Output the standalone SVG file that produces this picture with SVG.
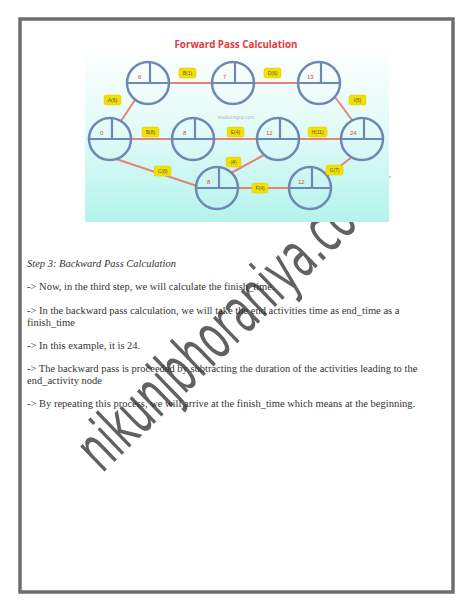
<svg xmlns="http://www.w3.org/2000/svg" width="474" height="613" viewBox="0 0 474 613">
<style>
.node circle{fill:none;stroke:#6f87b4;stroke-width:2.5}
.node line{stroke:#6f87b4;stroke-width:2.2}
.node text{font-family:"Liberation Sans",Arial,sans-serif;font-size:6px;fill:#e0403a}
.edge{stroke:#e8817a;stroke-width:2;fill:none}
.lab rect{fill:#f3e000;stroke:#e0c800;stroke-width:0.5}
.lab text{font-family:"Liberation Sans",Arial,sans-serif;font-size:5px;fill:#555;text-anchor:middle}
.body{font-family:"Liberation Serif","Times New Roman",serif;font-size:10.5px;fill:#333}
</style>
<defs>
<linearGradient id="bg" x1="0" y1="0" x2="0" y2="1">
<stop offset="0" stop-color="#fbfefe"/>
<stop offset="0.45" stop-color="#e2fbf8"/>
<stop offset="1" stop-color="#b4f3ec"/>
</linearGradient>
</defs>
<rect x="0" y="0" width="474" height="613" fill="#ffffff"/>
<rect x="20" y="19" width="433" height="573" fill="none" stroke="#6e6e6e" stroke-width="3.5"/>

<text x="102" y="474" transform="rotate(-44 102 474)" font-family="'DejaVu Sans',sans-serif" font-stretch="condensed" font-size="64" fill="#3a3a3a" fill-opacity="0.8" textLength="396" lengthAdjust="spacingAndGlyphs">nikunjbhoraniya.com</text>

<g id="diagram">
<rect x="85" y="33" width="304" height="189" fill="#ffffff"/>
<rect x="85" y="55" width="304" height="167" fill="url(#bg)"/>
<text x="236" y="48" font-family="'Open Sans','Liberation Sans',sans-serif" font-weight="bold" font-size="9.8" fill="#e23a3a" text-anchor="middle">Forward Pass Calculation</text>
<text x="236" y="119" font-family="'Liberation Sans',sans-serif" font-size="5" fill="#999" fill-opacity="0.7" text-anchor="middle">studiousguy.com</text>
<circle cx="390" cy="177" r="0.8" fill="#888"/>
</g>

<g id="connectors">
<line class="edge" x1="121" y1="121" x2="135" y2="100"/>
<line class="edge" x1="169" y1="83" x2="212" y2="83"/>
<line class="edge" x1="254" y1="83" x2="298" y2="83"/>
<line class="edge" x1="335" y1="97" x2="352" y2="120"/>
<line class="edge" x1="131" y1="139" x2="172" y2="139"/>
<line class="edge" x1="214" y1="139" x2="257" y2="139"/>
<line class="edge" x1="299" y1="139" x2="341" y2="139"/>
<line class="edge" x1="116" y1="159" x2="197" y2="186"/>
<line class="edge" x1="231" y1="173" x2="264" y2="155"/>
<line class="edge" x1="238" y1="188" x2="289" y2="188"/>
<line class="edge" x1="327" y1="176" x2="352" y2="157"/>
</g>

<g id="n1" class="node"><circle cx="148" cy="83" r="21"/><line x1="127" y1="83" x2="169" y2="83"/><line x1="150" y1="62" x2="150" y2="83"/><text x="138" y="79">6</text></g>
<g id="n2" class="node"><circle cx="233" cy="83" r="21"/><line x1="212" y1="83" x2="254" y2="83"/><line x1="235" y1="62" x2="235" y2="83"/><text x="223" y="79">7</text></g>
<g id="n3" class="node"><circle cx="319" cy="83" r="21"/><line x1="298" y1="83" x2="340" y2="83"/><line x1="321" y1="62" x2="321" y2="83"/><text x="307" y="79">13</text></g>
<g id="n4" class="node"><circle cx="110" cy="139" r="21"/><line x1="89" y1="139" x2="131" y2="139"/><line x1="112" y1="118" x2="112" y2="139"/><text x="100" y="135">0</text></g>
<g id="n5" class="node"><circle cx="193" cy="139" r="21"/><line x1="172" y1="139" x2="214" y2="139"/><line x1="195" y1="118" x2="195" y2="139"/><text x="183" y="135">8</text></g>
<g id="n6" class="node"><circle cx="278" cy="139" r="21"/><line x1="257" y1="139" x2="299" y2="139"/><line x1="280" y1="118" x2="280" y2="139"/><text x="266" y="135">12</text></g>
<g id="n7" class="node"><circle cx="362" cy="139" r="21"/><line x1="341" y1="139" x2="383" y2="139"/><line x1="364" y1="118" x2="364" y2="139"/><text x="350" y="135">24</text></g>
<g id="n8" class="node"><circle cx="217" cy="188" r="21"/><line x1="196" y1="188" x2="238" y2="188"/><line x1="219" y1="167" x2="219" y2="188"/><text x="207" y="184">8</text></g>
<g id="n9" class="node"><circle cx="310" cy="188" r="21"/><line x1="289" y1="188" x2="331" y2="188"/><line x1="312" y1="167" x2="312" y2="188"/><text x="298" y="184">12</text></g>

<g id="labels">
<g class="lab"><rect x="179" y="68" width="17" height="10" rx="2"/><text x="187.5" y="75">B(1)</text></g>
<g class="lab"><rect x="264" y="68" width="17" height="10" rx="2"/><text x="272.5" y="75">D(6)</text></g>
<g class="lab"><rect x="104" y="95" width="17" height="10" rx="2"/><text x="112.5" y="102">A(6)</text></g>
<g class="lab"><rect x="349" y="95" width="17" height="10" rx="2"/><text x="357.5" y="102">I(5)</text></g>
<g class="lab"><rect x="142" y="127" width="17" height="10" rx="2"/><text x="150.5" y="134">B(8)</text></g>
<g class="lab"><rect x="227" y="127" width="17" height="10" rx="2"/><text x="235.5" y="134">E(4)</text></g>
<g class="lab"><rect x="308" y="127" width="19" height="10" rx="2"/><text x="317.5" y="134">H(11)</text></g>
<g class="lab"><rect x="154" y="166" width="17" height="10" rx="2"/><text x="162.5" y="173">C(8)</text></g>
<g class="lab"><rect x="226" y="157" width="15" height="10" rx="2"/><text x="233.5" y="164">(4)</text></g>
<g class="lab"><rect x="326" y="165" width="17" height="10" rx="2"/><text x="334.5" y="172">G(7)</text></g>
<g class="lab"><rect x="252" y="183" width="16" height="10" rx="2"/><text x="260" y="190">F(4)</text></g>
</g>

<g id="text">
<text class="body" x="27" y="267" font-style="italic" fill="#555" font-size="9.2">Step 3: Backward Pass Calculation</text>
<text class="body" x="27" y="290">-&gt; Now, in the third step, we will calculate the finish_time.</text>
<text class="body" x="27" y="314">-&gt; In the backward pass calculation, we will take the end activities time as end_time as a</text>
<text class="body" x="27" y="326">finish_time</text>
<text class="body" x="27" y="349">-&gt; In this example, it is 24.</text>
<text class="body" x="27" y="372">-&gt; The backward pass is proceeded by subtracting the duration of the activities leading to the</text>
<text class="body" x="27" y="384">end_activity node</text>
<text class="body" x="27" y="407">-&gt; By repeating this process, we will arrive at the finish_time which means at the beginning.</text>
</g>
</svg>
